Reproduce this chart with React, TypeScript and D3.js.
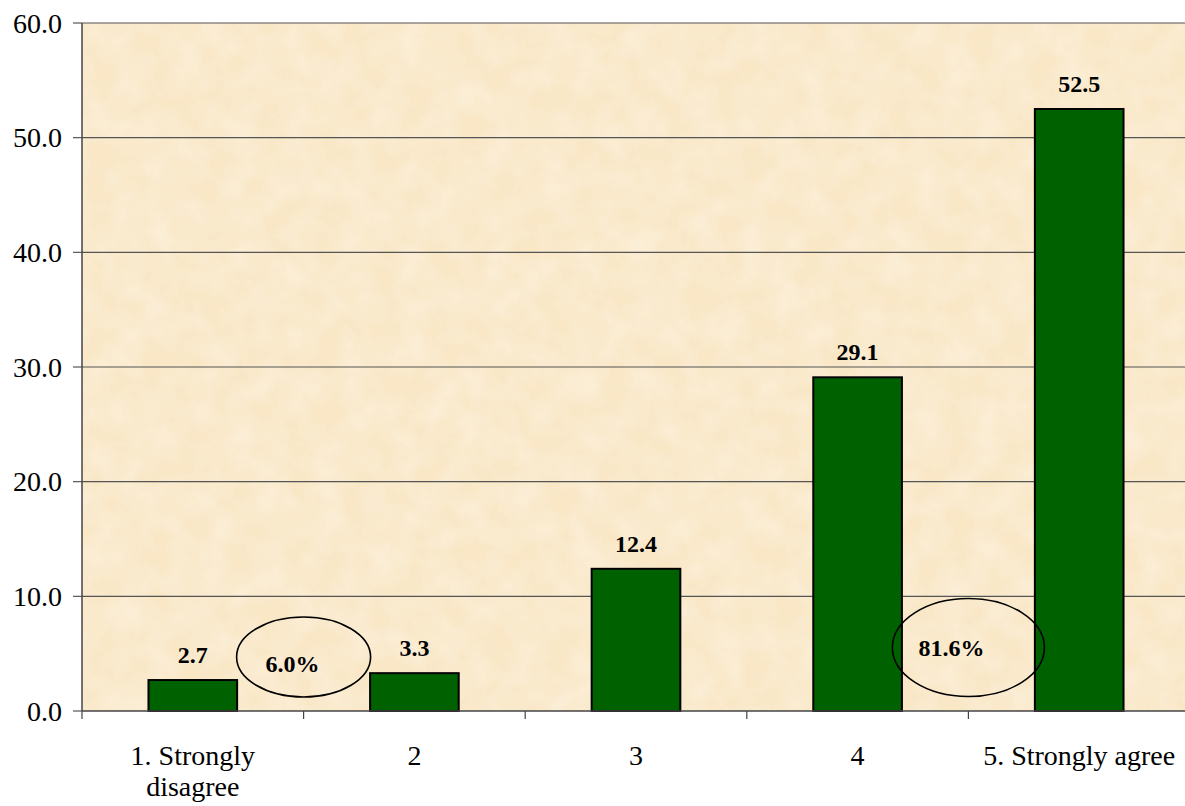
import React from "react";
import * as d3 from "d3";

const categories = ["1. Strongly disagree", "2", "3", "4", "5. Strongly agree"];
const values = [2.7, 3.3, 12.4, 29.1, 52.5];
const yTicks = [0, 10, 20, 30, 40, 50, 60];
const annotations = [
  { label: "6.0%", between: 0, y: 4.71, rx: 67, ry: 40, dx: -11, textY: 3.4 },
  { label: "81.6%", between: 3, y: 5.54, rx: 76, ry: 49, dx: -17, textY: 4.8 },
];

const W = 1185;
const H = 806;
const plotRight = 1190;
const margin = { left: 82, top: 23, bottom: 95 };
const font = "Liberation Serif";

export default function App() {
  const x = d3
    .scaleBand<string>()
    .domain(categories)
    .range([margin.left, plotRight])
    .paddingInner(0.6)
    .paddingOuter(0.3);
  const plotW = plotRight - margin.left;
  const bandStart = (i: number) => margin.left + i * (plotW / categories.length);
  const y = d3.scaleLinear().domain([0, 60]).range([H - margin.bottom, margin.top]);

  return (
    <div style={{ position: "absolute", left: 0, top: 0, width: W, height: H, fontFamily: font }}>
      <svg width={W} height={H} fontFamily={font}>
        <defs>
          <filter id="parch" x="0" y="0" width="100%" height="100%">
            <feTurbulence type="fractalNoise" baseFrequency="0.035" numOctaves="4" seed="3" result="n" />
            <feColorMatrix
              in="n"
              type="matrix"
              values="0 0 0 0 1  0 0 0 0 0.97  0 0 0 0 0.9  0 0 0 0.55 -0.15"
              result="c"
            />
            <feComposite in="c" in2="SourceGraphic" operator="atop" />
          </filter>
        </defs>
        <rect x={margin.left} y={margin.top} width={plotW} height={y(0) - margin.top} fill="#f9e7c6" />
        <rect
          x={margin.left}
          y={margin.top}
          width={plotW}
          height={y(0) - margin.top}
          fill="#f9e7c6"
          filter="url(#parch)"
        />
        {yTicks.map((t) => (
          <g key={t}>
            {t > 0 && (
              <line x1={margin.left} x2={plotRight} y1={y(t)} y2={y(t)} stroke="#555" strokeWidth={1.2} />
            )}
            <line x1={margin.left - 9} x2={margin.left} y1={y(t)} y2={y(t)} stroke="#555" strokeWidth={1.2} />
            <text
              x={margin.left - 20}
              y={y(t) + 9.5}
              textAnchor="end"
              fontFamily={font}
              style={{ fontFamily: font }}
              fontSize={28}
              fill="#000"
            >
              {t.toFixed(1)}
            </text>
          </g>
        ))}
        {categories.map((c, i) => {
          const v = values[i];
          const bx = x(c)!;
          return (
            <g key={c}>
              <rect
                x={bx}
                y={y(v)}
                width={x.bandwidth()}
                height={y(0) - y(v)}
                fill="#006100"
                stroke="#000"
                strokeWidth={2}
              />
              <text
                x={bx + x.bandwidth() / 2}
                y={y(v) - 17}
                textAnchor="middle"
                fontFamily={font}
                style={{ fontFamily: font }}
                fontWeight="bold"
                fontSize={24}
              >
                {v.toFixed(1)}
              </text>
            </g>
          );
        })}
        <line x1={margin.left} x2={margin.left} y1={margin.top} y2={y(0)} stroke="#444" strokeWidth={1.5} />
        <line x1={margin.left} x2={plotRight} y1={y(0)} y2={y(0)} stroke="#444" strokeWidth={1.5} />
        {d3.range(categories.length + 1).map((i) => (
          <line
            key={i}
            x1={bandStart(i)}
            x2={bandStart(i)}
            y1={y(0)}
            y2={y(0) + 8}
            stroke="#444"
            strokeWidth={1.2}
          />
        ))}
        {categories.map((c) => {
          const cx = x(c)! + x.bandwidth() / 2;
          const lines = c === "1. Strongly disagree" ? ["1. Strongly", "disagree"] : [c];
          return (
            <text key={c} textAnchor="middle" fontFamily={font} style={{ fontFamily: font }} fontSize={28}>
              {lines.map((l, j) => (
                <tspan key={j} x={cx} y={765 + j * 31}>
                  {l}
                </tspan>
              ))}
            </text>
          );
        })}
        {annotations.map((a) => {
          const cx = bandStart(a.between + 1);
          const cy = y(a.y);
          return (
            <g key={a.label}>
              <ellipse cx={cx} cy={cy} rx={a.rx} ry={a.ry} fill="none" stroke="#000" strokeWidth={1.6} />
              <text
                x={cx + a.dx}
                y={y(a.textY)}
                textAnchor="middle"
                fontFamily={font}
                style={{ fontFamily: font }}
                fontWeight="bold"
                fontSize={24}
              >
                {a.label}
              </text>
            </g>
          );
        })}
      </svg>
    </div>
  );
}
